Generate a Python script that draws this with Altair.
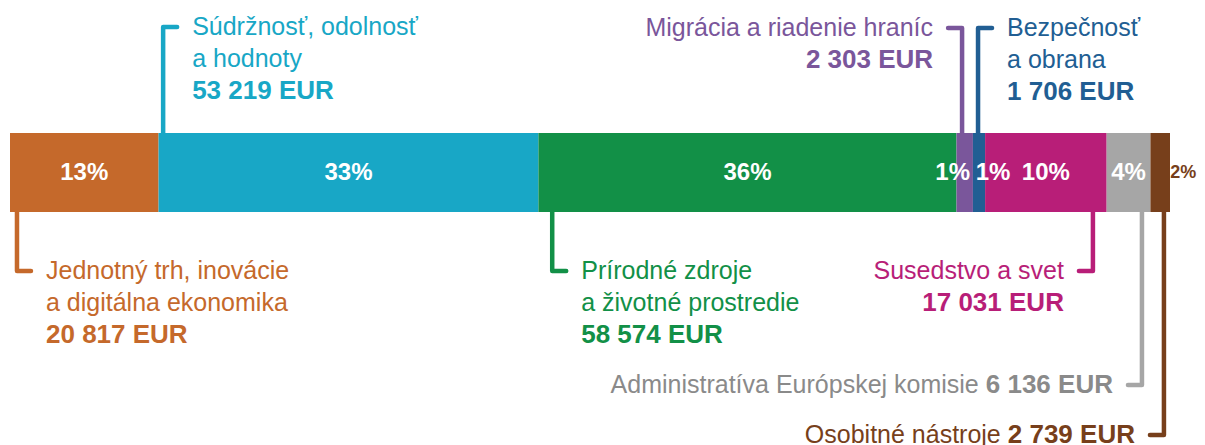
import altair as alt
import pandas as pd

# ---------------- data ----------------
categories = [
    "Jednotný trh, inovácie a digitálna ekonomika",
    "Súdržnosť, odolnosť a hodnoty",
    "Prírodné zdroje a životné prostredie",
    "Migrácia a riadenie hraníc",
    "Bezpečnosť a obrana",
    "Susedstvo a svet",
    "Administratíva Európskej komisie",
    "Osobitné nástroje",
]
values = [20817, 53219, 58574, 2303, 1706, 17031, 6136, 2739]
pct_labels = ["13%", "33%", "36%", "1%", "1%", "10%", "4%", "2%"]
amount_labels = ["20 817 EUR", "53 219 EUR", "58 574 EUR", "2 303 EUR",
                 "1 706 EUR", "17 031 EUR", "6 136 EUR", "2 739 EUR"]
label_lines = [
    ["Jednotný trh, inovácie", "a digitálna ekonomika"],
    ["Súdržnosť, odolnosť", "a hodnoty"],
    ["Prírodné zdroje", "a životné prostredie"],
    ["Migrácia a riadenie hraníc"],
    ["Bezpečnosť", "a obrana"],
    ["Susedstvo a svet"],
    ["Administratíva Európskej komisie"],
    ["Osobitné nástroje"],
]

# ---------------- style / layout ----------------
colors = ["#C5692B", "#18A7C6", "#129047", "#7A569B",
          "#215E93", "#B81E78", "#A6A6A6", "#773F1B"]
text_colors = ["#C5692B", "#18A7C6", "#129047", "#7A569B",
               "#215E93", "#B81E78", "#8A8A8A", "#773F1B"]
leader_frac = [0.047, 0.012, 0.033, 0.34, 0.42, 0.887, 0.806, 0.69]
label_side = ["right", "right", "right", "left", "right", "left", "left", "left"]
stub_y = [271, 27, 271, 28, 28, 271, 385, 435]
amount_inline = [False, False, False, False, False, False, True, True]
pct_dx = [0, 0, 0, -12, 14, 0, 0, 23]
pct_color = ["white"] * 7 + ["#773F1B"]
pct_size = [24] * 7 + [18]

FONT = "Liberation Sans, Arial, sans-serif"
FS = 25        # regular label text
FSB = 26       # bold amounts
LINE_H = 32.2
BAR_TOP, BAR_BOT, BAR_MID = 133, 212, 172.5
W, H = 1189, 437
X0, X1 = 2, 1162          # bar pixel extent inside the view
STUB = 14
GAP = 29

total = sum(values)
px = total / (X1 - X0)    # data units per pixel

starts, ends = [], []
acc = 0
for v in values:
    starts.append(acc)
    acc += v
    ends.append(acc)


def bold_width(s, size):
    w = {" ": 278, "E": 667, "U": 722, "R": 722}
    return sum(w.get(c, 556) for c in s) * size / 1000.0


bars = pd.DataFrame({"cat": categories, "start": starts, "end": ends,
                     "color": colors})

pct_rows, line_rows, text_rows = [], [], []
for i, c in enumerate(categories):
    mid = (starts[i] + ends[i]) / 2
    pct_rows.append({"cat": c, "x": mid + pct_dx[i] * px, "y": BAR_MID,
                     "t": pct_labels[i], "col": pct_color[i], "size": pct_size[i]})
    lx = starts[i] + leader_frac[i] * values[i]
    d = 1 if label_side[i] == "right" else -1
    line_rows += [
        {"cat": c, "o": 0, "x": lx, "y": BAR_MID, "col": colors[i]},
        {"cat": c, "o": 1, "x": lx, "y": stub_y[i], "col": colors[i]},
        {"cat": c, "o": 2, "x": lx + d * STUB * px, "y": stub_y[i], "col": colors[i]},
    ]
    tx = lx + d * GAP * px
    align = "left" if d == 1 else "right"
    if amount_inline[i]:
        bw = bold_width(amount_labels[i], FSB)
        text_rows.append({"x": tx, "y": stub_y[i], "t": amount_labels[i],
                          "col": text_colors[i], "align": align, "bold": True})
        text_rows.append({"x": tx - (bw + 7) * px, "y": stub_y[i],
                          "t": label_lines[i][0], "col": text_colors[i],
                          "align": align, "bold": False})
    else:
        for k, ln in enumerate(label_lines[i]):
            text_rows.append({"x": tx, "y": stub_y[i] + k * LINE_H, "t": ln,
                              "col": text_colors[i], "align": align, "bold": False})
        text_rows.append({"x": tx, "y": stub_y[i] + len(label_lines[i]) * LINE_H,
                          "t": amount_labels[i], "col": text_colors[i],
                          "align": align, "bold": True})

pcts = pd.DataFrame(pct_rows)
leaders = pd.DataFrame(line_rows)
texts = pd.DataFrame(text_rows)

xs = alt.Scale(domain=[0, total], range=[X0, X1])
ys = alt.Scale(domain=[8, 8 + H], range=[0, H])

leader_layer = alt.Chart(leaders).mark_line(
    strokeWidth=4.5, strokeCap="round", strokeJoin="round"
).encode(
    x=alt.X("x:Q", scale=xs, axis=None),
    y=alt.Y("y:Q", scale=ys, axis=None),
    order="o:Q",
    detail="cat:N",
    color=alt.Color("col:N", scale=None),
)

bar_layer = alt.Chart(bars).mark_rect().encode(
    x=alt.X("start:Q", scale=xs, axis=None),
    x2="end:Q",
    y=alt.Y("y1:Q", scale=ys, axis=None),
    y2="y2:Q",
    color=alt.Color("color:N", scale=None),
).transform_calculate(y1=str(BAR_TOP), y2=str(BAR_BOT))

pct_layer = alt.Chart(pcts).mark_text(
    font=FONT, fontWeight="bold", baseline="middle", align="center"
).encode(
    x=alt.X("x:Q", scale=xs, axis=None),
    y=alt.Y("y:Q", scale=ys, axis=None),
    text="t:N",
    color=alt.Color("col:N", scale=None),
    size=alt.Size("size:Q", scale=None, legend=None),
)


def text_layer(align, bold):
    df = texts[(texts["align"] == align) & (texts["bold"] == bold)]
    return alt.Chart(df).mark_text(
        font=FONT, fontSize=FSB if bold else FS,
        fontWeight="bold" if bold else "normal",
        baseline="middle", align=align
    ).encode(
        x=alt.X("x:Q", scale=xs, axis=None),
        y=alt.Y("y:Q", scale=ys, axis=None),
        text="t:N",
        color=alt.Color("col:N", scale=None),
    )


chart = alt.layer(
    leader_layer, bar_layer, pct_layer,
    text_layer("left", False), text_layer("right", False),
    text_layer("left", True), text_layer("right", True),
).properties(
    width=W, height=H, padding=0, autosize=alt.AutoSizeParams(type="none")
).configure_view(stroke=None)

chart.save("out.html", embed_options={"renderer": "svg", "actions": False})
